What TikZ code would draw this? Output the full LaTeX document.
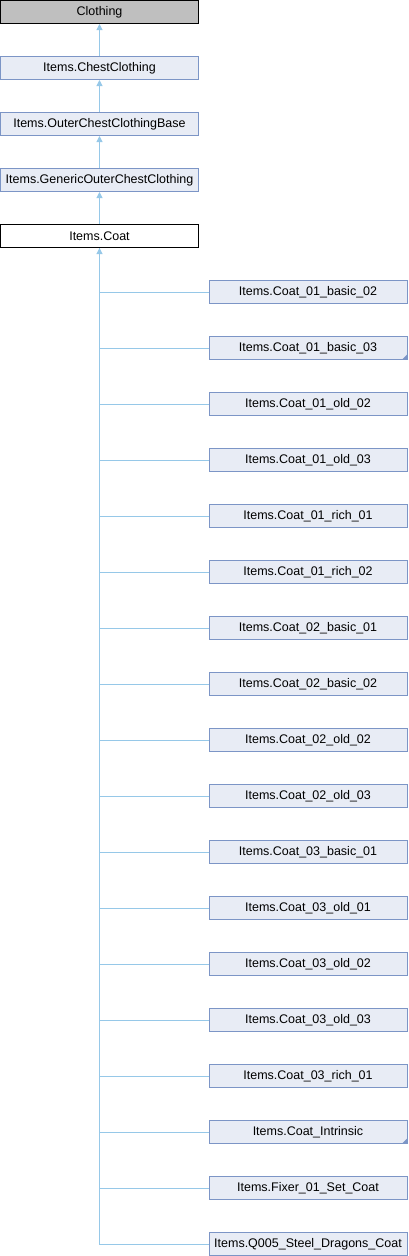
\documentclass[tikz,border=0pt]{standalone}
\usepackage{fontspec}
\setmainfont{Liberation Sans}
\usetikzlibrary{arrows.meta}
\definecolor{edgecol}{RGB}{150,200,232}
\definecolor{boxfill}{RGB}{232,236,245}
\definecolor{boxdraw}{RGB}{124,149,198}
\definecolor{rootfill}{RGB}{191,191,191}
\tikzset{
  cls/.style={draw=boxdraw, fill=boxfill, line width=1pt, minimum width=198pt, minimum height=23pt, inner sep=0pt, font=\fontsize{12.5}{14}\selectfont},
  rootcls/.style={cls, draw=black, fill=rootfill},
  curcls/.style={cls, draw=black, fill=white},
  inh/.style={draw=edgecol, line width=1pt, -{Triangle[length=6pt,width=6pt]}},
  plainedge/.style={draw=edgecol, line width=1pt},
  moremark/.style={fill=boxdraw}
}
\begin{document}
\begin{tikzpicture}[x=1pt,y=-1pt]
\useasboundingbox (0,0) rectangle (408,1256);
\node[rootcls] (n0) at (99.5,12) {Clothing};
\node[cls] (n1) at (99.5,68) {Items.ChestClothing};
\node[cls] (n2) at (99.5,124) {Items.OuterChestClothingBase};
\node[cls] (n3) at (99.5,180) {Items.GenericOuterChestClothing};
\node[curcls] (coat) at (99.5,236) {Items.Coat};
\draw[inh] (n1.north) -- (n0.south);
\draw[inh] (n2.north) -- (n1.south);
\draw[inh] (n3.north) -- (n2.south);
\draw[inh] (coat.north) -- (n3.south);
\foreach \name [count=\i from 0] in {Items.Coat\_01\_basic\_02, Items.Coat\_01\_basic\_03, Items.Coat\_01\_old\_02, Items.Coat\_01\_old\_03, Items.Coat\_01\_rich\_01, Items.Coat\_01\_rich\_02, Items.Coat\_02\_basic\_01, Items.Coat\_02\_basic\_02, Items.Coat\_02\_old\_02, Items.Coat\_02\_old\_03, Items.Coat\_03\_basic\_01, Items.Coat\_03\_old\_01, Items.Coat\_03\_old\_02, Items.Coat\_03\_old\_03, Items.Coat\_03\_rich\_01, Items.Coat\_Intrinsic, Items.Fixer\_01\_Set\_Coat, Items.Q005\_Steel\_Dragons\_Coat} {
  \node[cls] (c\i) at (308,{292+56*\i}) {\name};
  \draw[plainedge] (c\i.west) -| (coat.south);
}
\draw[inh] (c17.west) -| (coat.south);
\fill[moremark] ([shift={(-0.5,-0.5)}]c1.south east) -- ++(-5,0) -- ++(5,-5) -- cycle;
\fill[moremark] ([shift={(-0.5,-0.5)}]c15.south east) -- ++(-5,0) -- ++(5,-5) -- cycle;
\end{tikzpicture}
\end{document}
